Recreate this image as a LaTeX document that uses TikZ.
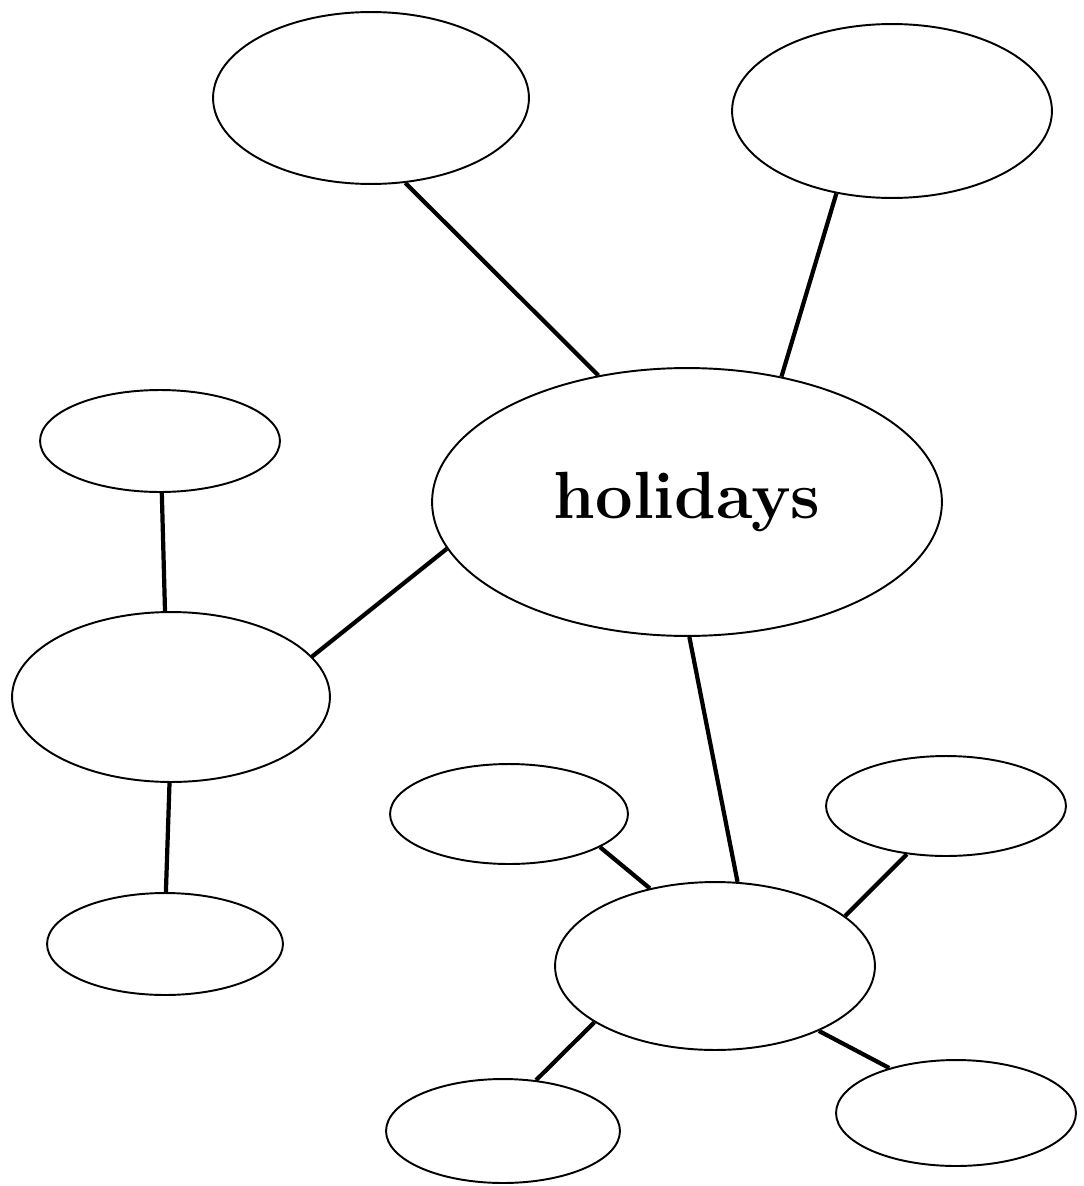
\documentclass[tikz,border=0pt]{standalone}
\usepackage{fontspec}
\usetikzlibrary{shapes.geometric}
\tikzset{
	bubble/.style 2 args={
		ellipse,
		draw=black,
		line width=1.1pt,
		inner sep=0pt,
		minimum width=#1*0.04cm,
		minimum height=#2*0.04cm
	},
	link/.style={
		line width=2.4pt
	}
}
\begin{document}
\begin{tikzpicture}[x=0.02cm, y=-0.02cm]

	\useasboundingbox (0, 0) rectangle (1084, 1186);

	%% Centre
	\node[bubble={255}{134}] (hol) at (687, 502) {\fontsize{38}{46}\selectfont\bfseries holidays};

	%% Upper branches
	\node[bubble={158}{86}] (topl) at (371, 98) {};
	\node[bubble={160}{87}] (topr) at (892, 111) {};

	%% Left branch
	\node[bubble={120}{51}] (leftt) at (160, 441) {};
	\node[bubble={159}{85}] (leftm) at (171, 697) {};
	\node[bubble={118}{51}] (leftb) at (165, 944) {};

	%% Lower branch
	\node[bubble={119}{50}] (midt) at (509, 814) {};
	\node[bubble={120}{50}] (rightt) at (946, 806) {};
	\node[bubble={160}{84}] (botm) at (715, 966) {};
	\node[bubble={117}{52}] (botl) at (503, 1131) {};
	\node[bubble={120}{53}] (botr) at (956, 1113) {};

	% Connectors
	\draw[link] (topl.-68) -- (hol.125);
	\draw[link] (topr.-124) -- (hol.53);
	\draw[link] (hol.191) -- (leftm.16);
	\draw[link] (leftt.-88) -- (leftm.94);
	\draw[link] (leftm.-91) -- (leftb.89);
	\draw[link] (hol.-89) -- (botm.75);
	\draw[link] (midt.-20) -- (botm.130);
	\draw[link] (rightt.231) -- (botm.21);
	\draw[link] (botm.205) -- (botl.57);
	\draw[link] (botm.-32) -- (botr.146);

\end{tikzpicture}
\end{document}
